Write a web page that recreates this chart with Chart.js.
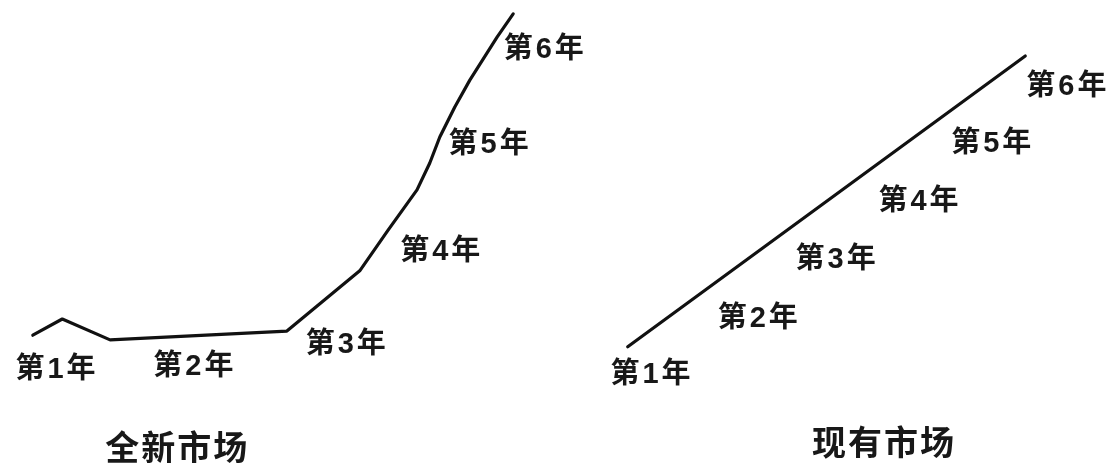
<!DOCTYPE html>
<html>
<head>
<meta charset="utf-8">
<script src="https://cdn.jsdelivr.net/npm/chart.js@4/dist/chart.umd.min.js"></script>
<style>
  html, body { margin: 0; padding: 0; background: #fff; }
  #wrap { position: relative; width: 1112px; height: 463px; overflow: hidden; }
</style>
</head>
<body>
<div id="wrap"><canvas id="c" width="1112" height="463"></canvas></div>
<script>
// ---- Data (arbitrary index units, 0-100 on both axes of each panel) ----
const yearLabels = ['第1年', '第2年', '第3年', '第4年', '第5年', '第6年'];

// 全新市场 (new market) curve
const newMarketTitle = '全新市场';
const newMarketX = [5.9, 11.2, 19.8, 51.6, 64.7, 69.8, 75.0, 77.3, 79.1, 81.8, 84.5, 89.4, 92.3];
const newMarketY = [27.6, 31.1, 26.6, 28.5, 41.5, 50.3, 59.0, 64.8, 70.4, 76.9, 82.7, 92.0, 97.0];
const newMarketLabelX = [9.9, 34.7, 62.1, 79.1, 87.8, 97.7];
const newMarketLabelY = [20.5, 21.2, 25.9, 46.0, 69.1, 89.6];
const newMarketTitleX = 31.7;
const newMarketTitleY = 3.5;

// 现有市场 (existing market) line
const existingMarketTitle = '现有市场';
const existingMarketX = [12.9, 84.4];
const existingMarketY = [25.1, 87.9];
const existingMarketLabelX = [16.9, 36.2, 50.2, 65.1, 78.2, 91.7];
const existingMarketLabelY = [19.4, 31.5, 44.3, 56.8, 69.3, 81.6];
const existingMarketTitleX = 58.8;
const existingMarketTitleY = 4.5;

// ---- Rendering ----
const TEXT_COLOR = '#181818';
const LABEL_FONT = '"Liberation Sans", "Noto Sans CJK SC", sans-serif';
const TITLE_FONT = '"Noto Sans CJK SC", "Noto Sans", sans-serif';

const annotatePlugin = {
  id: 'annotate',
  afterDatasetsDraw(chart, args, opts) {
    const ctx = chart.ctx;
    const ys = chart.scales.y;
    ctx.save();
    ctx.fillStyle = TEXT_COLOR;
    ctx.textAlign = 'center';
    ctx.textBaseline = 'middle';
    opts.panels.forEach(p => {
      const xs = chart.scales[p.axis];
      ctx.font = 'bold 29px ' + LABEL_FONT;
      try { ctx.letterSpacing = '3px'; } catch (e) {}
      yearLabels.forEach((t, i) => {
        ctx.fillText(t, xs.getPixelForValue(p.lx[i]) + 2, ys.getPixelForValue(p.ly[i]) + 2);
      });
      ctx.font = 'bold 34px ' + TITLE_FONT;
      try { ctx.letterSpacing = '2px'; } catch (e) {}
      ctx.fillText(p.title, xs.getPixelForValue(p.tx) + 1, ys.getPixelForValue(p.ty));
    });
    ctx.restore();
  }
};

function toPoints(xsArr, ysArr) {
  return xsArr.map((x, i) => ({ x: x, y: ysArr[i] }));
}

const lineStyle = {
  borderColor: '#111',
  borderWidth: 3.2,
  pointRadius: 0,
  tension: 0,
  fill: false,
  clip: false,
  borderJoinStyle: 'round',
  borderCapStyle: 'round'
};

new Chart(document.getElementById('c'), {
  type: 'line',
  data: {
    datasets: [
      Object.assign({ data: toPoints(newMarketX, newMarketY), xAxisID: 'x', yAxisID: 'y' }, lineStyle),
      Object.assign({ data: toPoints(existingMarketX, existingMarketY), xAxisID: 'x2', yAxisID: 'y' }, lineStyle)
    ]
  },
  options: {
    responsive: false,
    animation: false,
    events: [],
    layout: { padding: 0 },
    scales: {
      // left panel occupies values 0-100 of the 0-200 range (left half)
      x: { type: 'linear', min: 0, max: 200, display: false },
      // right panel occupies values 0-100 of the -100..100 range (right half)
      x2: { type: 'linear', min: -100, max: 100, display: false },
      y: { type: 'linear', min: 0, max: 100, display: false }
    },
    plugins: {
      legend: { display: false },
      tooltip: { enabled: false },
      title: { display: false },
      annotate: {
        panels: [
          { axis: 'x', lx: newMarketLabelX, ly: newMarketLabelY, title: newMarketTitle, tx: newMarketTitleX, ty: newMarketTitleY },
          { axis: 'x2', lx: existingMarketLabelX, ly: existingMarketLabelY, title: existingMarketTitle, tx: existingMarketTitleX, ty: existingMarketTitleY }
        ]
      }
    }
  },
  plugins: [annotatePlugin]
});
</script>
</body>
</html>
